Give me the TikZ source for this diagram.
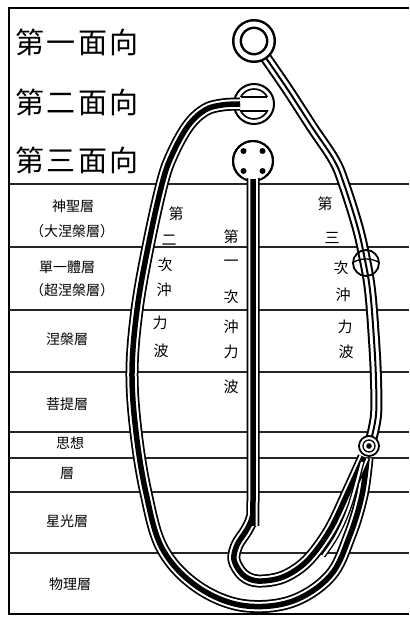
\documentclass[tikz,border=0pt]{standalone}
\usepackage{fontspec}
\newfontfamily\cjk{Noto Sans CJK TC}
\begin{document}
\begin{tikzpicture}[x=1pt,y=-1pt,
  layer/.style={line width=1.4pt, black!85},
  frame/.style={line width=1.5pt, black},
  tubethick/.style={line width=13pt, black, postaction={draw=white, line width=9.5pt}, postaction={draw=black, line width=5.5pt}},
  tubethin/.style={line width=12pt, black, postaction={draw=white, line width=8pt}, postaction={draw=black, line width=2pt}},
  tubefine/.style={line width=5pt, black, postaction={draw=white, line width=2.2pt}},
  head/.style={font=\cjk\fontsize{29}{32}\selectfont, anchor=west, inner sep=0pt},
  lab/.style={font=\cjk\fontsize{14}{16}\selectfont, inner sep=0pt},
  col/.style={font=\cjk\fontsize{15}{16}\selectfont, inner sep=0pt}]
\useasboundingbox (0,0) rectangle (409,617);
\fill[white] (0,0) rectangle (409,617);
% frame
\draw[frame] (409,8) -- (9,8) -- (9,614) -- (409,614);
% layer lines
\foreach \yy in {184,247,310,372,432,458,492,553}
  \draw[layer] (9,\yy) -- (409,\yy);
% circle anchors
\coordinate (C1) at (254,41);
\coordinate (C2) at (254,104);
\coordinate (C3) at (253,161);
\coordinate (K) at (366,263);
\coordinate (S) at (369,446);
% circle 2 and 3 bodies first
\draw[line width=2pt, fill=white] (C2) circle (20pt);
\draw[line width=2pt, fill=white] (C3) circle (20pt);
% left big tube (second outpouring)
\draw[tubethick] plot[smooth, tension=0.6] coordinates {(240,104) (222,105) (205,110) (188,126) (172,155) (162,184) (148,247) (137,310) (132,372) (136,432) (146,493) (162,548) (195,585) (240,605) (290,602) (330,576) (350,535) (362,495) (367,458)};
% middle tube (first outpouring)
\draw[tubethick] plot[smooth, tension=0.55] coordinates {(C3) (253,200) (253,500) (252,518) (246,531) (237,545) (234,560) (243,575) (258,581) (283,577) (307,561) (330,530) (350,488) (364,457)};
% right tube (third outpouring)
\draw[tubethin] plot[smooth, tension=0.6] coordinates {(266,58) (288,90) (312,127) (334,160) (344,184) (357,225) (364,255) (370,290) (374,340) (376,380) (376,415) (371,440)};
% fine tube between
\draw[tubefine] plot[smooth, tension=0.6] coordinates {(362,462) (350,505) (337,535) (323,556)};
% circle 3 redraw top part and dots
\begin{scope}
  \clip (220,130) rectangle (290,176);
  \draw[line width=2pt] (C3) circle (20pt);
\end{scope}
\fill[white] (C3) circle (18pt);
\foreach \dx/\dy in {-9.5/-10, 9.5/-10, -9.5/10, 9.5/10}
  \fill (C3) ++(\dx,\dy) circle (3pt);
% circle 2 lenses
\begin{scope}
  \clip (220,70) rectangle (290,97);
  \draw[line width=1.6pt] (C2) circle (15pt);
\end{scope}
\draw[line width=1.6pt] (240.7,97) -- (267.3,97);
\begin{scope}
  \clip (220,111) rectangle (290,140);
  \draw[line width=1.6pt] (C2) circle (15pt);
\end{scope}
\draw[line width=1.6pt] (240.7,111) -- (267.3,111);
% circle 1 ring
\draw[line width=10pt] (C1) circle (17pt);
\draw[line width=5pt, white] (C1) circle (17pt);
% knot on right tube
\draw[line width=1.8pt] (K) circle (13pt);
\draw[line width=1.3pt] (354,262) .. controls (360,258) and (372,258) .. (378,262);
% small circle
\draw[line width=1.8pt, fill=white] (S) circle (10pt);
\draw[line width=1.3pt] (S) circle (6pt);
\fill (S) circle (2.8pt);
% headings
\node[head] (h1) at (15,42) {第\hspace{2.5pt}一\hspace{2.5pt}面\hspace{2.5pt}向};
\node[head] (h2) at (15,102) {第\hspace{2.5pt}二\hspace{2.5pt}面\hspace{2.5pt}向};
\node[head] (h3) at (15,160) {第\hspace{2.5pt}三\hspace{2.5pt}面\hspace{2.5pt}向};
% layer labels
\node[lab] (l1a) at (73,206) {神聖層};
\node[lab] (l1b) at (72,231) {（大涅槃層）};
\node[lab] (l2a) at (67,267) {單一體層};
\node[lab] (l2b) at (72,290) {（超涅槃層）};
\node[lab] (l3) at (67,339) {涅槃層};
\node[lab] (l4) at (67,404) {菩提層};
\node[lab] (l5a) at (70,443) {思想};
\node[lab] (l5b) at (67,473) {層};
\node[lab] (l6) at (67,521) {星光層};
\node[lab] (l7) at (70,584) {物理層};
% column texts
\node[col] (a1) at (176,214) {第};
\node[col] (a2) at (169,240) {二};
\node[col] (a3) at (165,265) {次};
\node[col] (a4) at (164,290) {沖};
\node[col] (a5) at (160,323) {力};
\node[col] (a6) at (161,351) {波};
\node[col] (b1) at (231,237) {第};
\node[col] (b2) at (231,263) {一};
\node[col] (b3) at (231,297) {次};
\node[col] (b4) at (231,327) {沖};
\node[col] (b5) at (231,352) {力};
\node[col] (b6) at (231,387) {波};
\node[col] (c1) at (325,204) {第};
\node[col] (c2) at (332,238) {三};
\node[col] (c3) at (341,268) {次};
\node[col] (c4) at (343,295) {沖};
\node[col] (c5) at (345,327) {力};
\node[col] (c6) at (346,352) {波};
\end{tikzpicture}
\end{document}
